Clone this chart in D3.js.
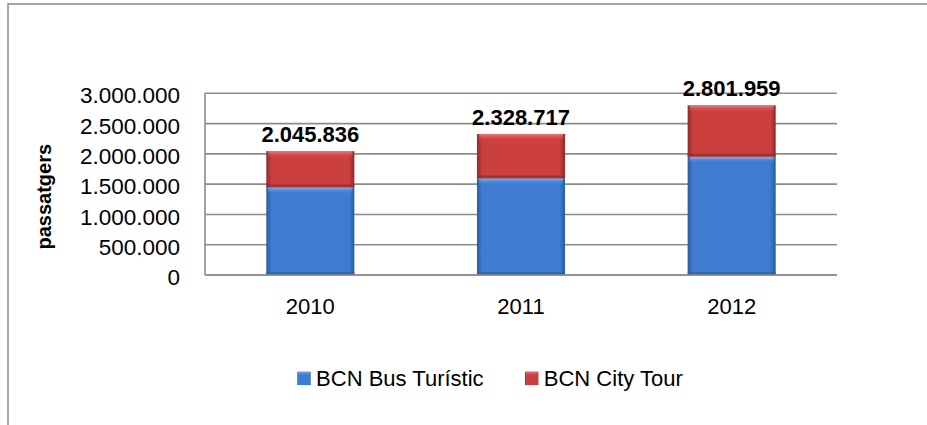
<!DOCTYPE html>
<html><head><meta charset="utf-8">
<script src="https://cdn.jsdelivr.net/npm/d3@7/dist/d3.min.js"></script>
<style>body{margin:0;background:#fff}svg{display:block;font-family:"Liberation Sans",Arial,sans-serif}</style>
</head><body><svg id="c" width="927" height="425"></svg>
<script>
const years = ["2010","2011","2012"];
const busTuristic = [1448000, 1597000, 1953000];
const cityTour = [597836, 731717, 848959];
const totals = [2045836, 2328717, 2801959];
const yTicks = [0,500000,1000000,1500000,2000000,2500000,3000000];
const seriesNames = ["BCN Bus Turístic","BCN City Tour"];
const colors = {main:["#3f7bd0","#cc3f3f"], light:["#7fb2f0","#f07c7c"], dark:["#2a5c9e","#8e2a2a"]};

const svg = d3.select("#c");
const fmt = v => d3.format(",")(v).replace(/,/g,".");
const m = {l:205, r:837, t:93.3, b:275};
const x = d3.scaleBand().domain(years).range([m.l,m.r]).paddingInner(0.582).paddingOuter(0.291);
const y = d3.scaleLinear().domain([0,3000000]).range([m.b,m.t]);
const FONT = "Liberation Sans, Arial, sans-serif";

// outer border
svg.append("path").attr("d","M8,425 V4 H927").attr("fill","none").attr("stroke","#8a8a8a").attr("stroke-width",1.5);

// gradients
const defs = svg.append("defs");
[0,1].forEach(i=>{
  const g = defs.append("linearGradient").attr("id","h"+i).attr("x1",0).attr("x2",1).attr("y1",0).attr("y2",0);
  g.append("stop").attr("offset","0%").attr("stop-color",colors.dark[i]);
  g.append("stop").attr("offset","6%").attr("stop-color",colors.main[i]);
  g.append("stop").attr("offset","94%").attr("stop-color",colors.main[i]);
  g.append("stop").attr("offset","100%").attr("stop-color",colors.dark[i]);
  const t = defs.append("linearGradient").attr("id","v"+i).attr("x1",0).attr("x2",0).attr("y1",0).attr("y2",1);
  t.append("stop").attr("offset","0%").attr("stop-color",colors.light[i]);
  t.append("stop").attr("offset","100%").attr("stop-color",colors.main[i]).attr("stop-opacity",0);
});

// gridlines
svg.append("g").selectAll("line").data(yTicks).join("line")
  .attr("x1",m.l).attr("x2",m.r).attr("y1",d=>y(d)).attr("y2",d=>y(d))
  .attr("stroke","#8c8c8c").attr("stroke-width",1.6);
svg.append("line").attr("x1",m.l).attr("x2",m.l).attr("y1",m.t).attr("y2",m.b).attr("stroke","#8c8c8c").attr("stroke-width",1.6);

// y axis labels
const yAxis = d3.axisLeft(y).tickValues(yTicks).tickFormat(fmt).tickSize(0).tickPadding(0);
const ga = svg.append("g").attr("transform",`translate(180,1.5)`).call(yAxis);
ga.select(".domain").remove();
ga.attr("font-size",22.5).attr("font-family",FONT);
ga.selectAll("text").attr("fill","#000").attr("dy","0.36em");

// x labels
const xAxis = d3.axisBottom(x).tickSize(0).tickPadding(0);
const gx = svg.append("g").attr("transform",`translate(0,${m.b})`).call(xAxis);
gx.select(".domain").remove();
gx.attr("font-size",22).attr("font-family",FONT);
gx.selectAll("text").attr("fill","#000").attr("dy",null).attr("y",39.3);

// bars
const stacks = [busTuristic, cityTour];
stacks.forEach((vals,si)=>{
  years.forEach((yr,i)=>{
    const base = si===0 ? 0 : busTuristic[i];
    const top = base + vals[i];
    const x0 = x(yr), w = x.bandwidth(), y0 = y(top), h = y(base)-y(top);
    svg.append("rect").attr("x",x0).attr("y",y0).attr("width",w).attr("height",h).attr("fill",`url(#h${si})`);
    svg.append("rect").attr("x",x0+2).attr("y",y0).attr("width",w-4).attr("height",Math.min(7,h)).attr("fill",`url(#v${si})`);
    svg.append("rect").attr("x",x0).attr("y",y0+h-3).attr("width",w).attr("height",3).attr("fill",colors.dark[si]).attr("opacity",0.6);
  });
});
// redraw baseline over bars
svg.append("line").attr("x1",m.l).attr("x2",m.r).attr("y1",y(0)).attr("y2",y(0)).attr("stroke","#8c8c8c").attr("stroke-width",1.6);

// total labels
svg.append("g").selectAll("text").data(years).join("text")
  .attr("x",d=>x(d)+x.bandwidth()/2).attr("y",(d,i)=>y(totals[i])-9)
  .attr("text-anchor","middle").attr("font-size",22).attr("font-weight","bold")
  .text((d,i)=>fmt(totals[i]));

// y title
svg.append("text").attr("transform","translate(51,196.7) rotate(-90)").attr("text-anchor","middle")
  .attr("font-size",20).attr("font-weight","bold").text("passatgers");

// legend
const lx = [297.3, 525];
seriesNames.forEach((n,i)=>{
  const g = svg.append("g");
  g.append("rect").attr("x",lx[i]).attr("y",371.7).attr("width",13.4).attr("height",13.4).attr("fill",`url(#h${i})`);
  g.append("rect").attr("x",lx[i]+1).attr("y",371.7).attr("width",11.4).attr("height",4).attr("fill",`url(#v${i})`);
  g.append("text").attr("x",lx[i]+18.8).attr("y",386).attr("font-size",22).text(n);
});
</script></body></html>
